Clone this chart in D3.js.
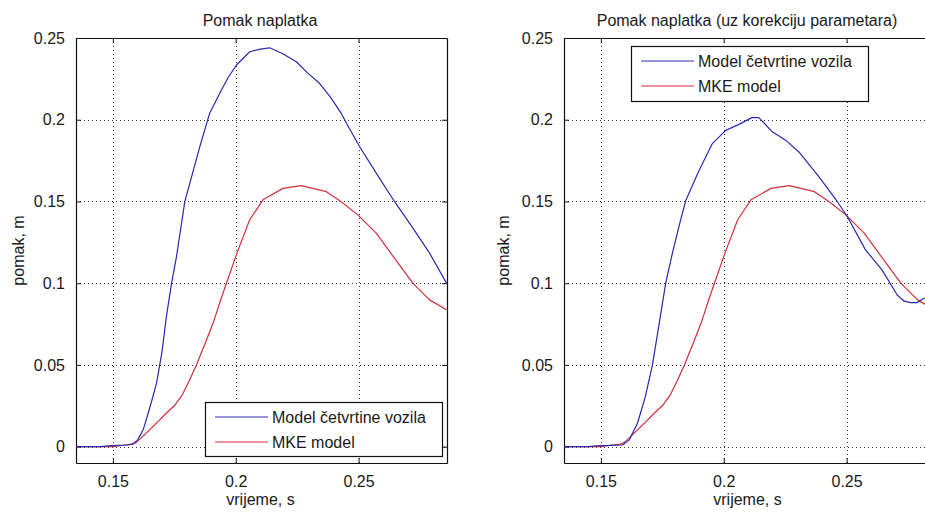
<!DOCTYPE html>
<html>
<head>
<meta charset="utf-8">
<script src="https://cdn.jsdelivr.net/npm/d3@7"></script>
<style>
  html, body { margin: 0; padding: 0; background: #fff; }
  svg { display: block; }
  text { font-family: "Liberation Sans", Arial, Helvetica, sans-serif; fill: #1a1a1a; }
</style>
</head>
<body>
<svg id="chart" width="925" height="513"></svg>
<script>
// ---------------- data ----------------
const titles = ["Pomak naplatka", "Pomak naplatka (uz korekciju parametara)"];
const xLabel = "vrijeme, s";
const yLabel = "pomak, m";
const seriesNames = ["Model četvrtine vozila", "MKE model"];
const xTicks = [0.15, 0.2, 0.25];
const xTickLabels = ["0.15", "0.2", "0.25"];
const yTicks = [0, 0.05, 0.1, 0.15, 0.2, 0.25];
const yTickLabels = ["0", "0.05", "0.1", "0.15", "0.2", "0.25"];
const xDomain = [0.135, 0.286];
const yDomain = [-0.01, 0.25];

// Left plot: quarter-vehicle model (blue)
const tBlueLeft = [0.135, 0.145, 0.148, 0.152, 0.156, 0.158, 0.1602, 0.1625, 0.1644, 0.166, 0.1678, 0.170, 0.1718, 0.1739, 0.1759, 0.1793, 0.1822, 0.1854, 0.1894, 0.1935, 0.197, 0.2003, 0.2057, 0.210, 0.2138, 0.219, 0.2247, 0.229, 0.2341, 0.2385, 0.2429, 0.2465, 0.2504, 0.2572, 0.2646, 0.272, 0.2789, 0.2858];
const vBlueLeft = [0, 0, 0.0005, 0.0008, 0.001, 0.0015, 0.0043, 0.011, 0.0206, 0.029, 0.039, 0.058, 0.0797, 0.1, 0.1163, 0.150, 0.166, 0.1836, 0.204, 0.2162, 0.226, 0.2335, 0.2416, 0.2432, 0.244, 0.2405, 0.2355, 0.229, 0.2223, 0.214, 0.204, 0.194, 0.1836, 0.1673, 0.150, 0.134, 0.1184, 0.1];

// MKE model (red), same in both plots
const tRed = [0.135, 0.150, 0.155, 0.158, 0.1596, 0.162, 0.165, 0.1685, 0.1718, 0.175, 0.178, 0.181, 0.184, 0.1875, 0.1908, 0.1935, 0.1962, 0.201, 0.2057, 0.2111, 0.2192, 0.2267, 0.2369, 0.2428, 0.2497, 0.2572, 0.2646, 0.2721, 0.2789, 0.2858];
const vRed = [0, 0, 0.001, 0.0015, 0.0026, 0.006, 0.0104, 0.0155, 0.0206, 0.025, 0.031, 0.040, 0.050, 0.063, 0.0756, 0.088, 0.100, 0.1204, 0.1388, 0.151, 0.158, 0.1597, 0.156, 0.150, 0.1418, 0.1306, 0.1153, 0.100, 0.0898, 0.0837];

// Right plot: quarter-vehicle model with corrected parameters (blue)
const tBlueRight = [0.135, 0.145, 0.148, 0.154, 0.1588, 0.1615, 0.1649, 0.168, 0.171, 0.1737, 0.1764, 0.1791, 0.182, 0.1846, 0.190, 0.1954, 0.2008, 0.206, 0.2115, 0.2143, 0.2198, 0.2252, 0.2306, 0.2388, 0.2462, 0.2503, 0.2577, 0.2645, 0.2706, 0.2735, 0.276, 0.2787, 0.2814, 0.2858];
const vBlueRight = [0, 0, 0.0005, 0.0008, 0.001, 0.004, 0.0143, 0.030, 0.050, 0.075, 0.100, 0.1183, 0.136, 0.1508, 0.1691, 0.1854, 0.1935, 0.197, 0.2013, 0.2013, 0.1926, 0.1875, 0.1803, 0.165, 0.150, 0.1408, 0.1204, 0.108, 0.0928, 0.089, 0.0881, 0.0881, 0.0908, 0.092];

const colors = ["#2a2aae", "#d22f3a"];

// ---------------- drawing ----------------
const svg = d3.select("#chart");
const FS = 16;

const panels = [
  { left: 76, right: 447, top: 38, bottom: 463, title: titles[0],
    blue: tBlueLeft.map((t, i) => [t, vBlueLeft[i]]),
    legend: { x: 205, y: 402, w: 237, h: 54 }, titleX: 260, ylabX: 24 },
  { left: 564, right: 935, top: 38, bottom: 463, title: titles[1],
    blue: tBlueRight.map((t, i) => [t, vBlueRight[i]]),
    legend: { x: 631, y: 46, w: 237, h: 55 }, titleX: 747, ylabX: 509 }
];
const redData = tRed.map((t, i) => [t, vRed[i]]);

panels.forEach((p, pi) => {
  const x = d3.scaleLinear().domain(xDomain).range([p.left, p.right]);
  const y = d3.scaleLinear().domain(yDomain).range([p.bottom, p.top]);
  const g = svg.append("g");

  const clipId = "clip" + pi;
  g.append("clipPath").attr("id", clipId).append("rect")
    .attr("x", p.left).attr("y", p.top).attr("width", p.right - p.left).attr("height", p.bottom - p.top);

  // grid
  g.append("g").selectAll("line").data(xTicks).join("line")
    .attr("x1", d => Math.round(x(d)) + 0.5).attr("x2", d => Math.round(x(d)) + 0.5)
    .attr("y1", p.top).attr("y2", p.bottom)
    .attr("stroke", "#333").attr("stroke-width", 1).attr("stroke-dasharray", "1,3");
  g.append("g").selectAll("line").data(yTicks).join("line")
    .attr("y1", d => Math.round(y(d)) + 0.5).attr("y2", d => Math.round(y(d)) + 0.5)
    .attr("x1", p.left).attr("x2", p.right)
    .attr("stroke", "#333").attr("stroke-width", 1).attr("stroke-dasharray", "1,3");

  // axes via d3 axis (ticks inward)
  const xAxisB = d3.axisBottom(x).tickValues(xTicks).tickFormat((d, i) => xTickLabels[i]).tickSize(-5).tickPadding(13).tickSizeOuter(0);
  const xAxisT = d3.axisTop(x).tickValues(xTicks).tickFormat("").tickSize(-5).tickSizeOuter(0);
  const yAxisL = d3.axisLeft(y).tickValues(yTicks).tickFormat((d, i) => yTickLabels[i]).tickSize(-5).tickPadding(11).tickSizeOuter(0);
  const yAxisR = d3.axisRight(y).tickValues(yTicks).tickFormat("").tickSize(-5).tickSizeOuter(0);

  const styleAxis = sel => {
    sel.select(".domain").attr("stroke", "#111").attr("stroke-width", 1.2);
    sel.selectAll(".tick line").attr("stroke", "#111");
    sel.selectAll("text").attr("font-size", FS).attr("font-family", "Liberation Sans, Arial, sans-serif").attr("fill", "#1a1a1a");
  };
  g.append("g").attr("transform", `translate(0,${p.bottom})`).call(xAxisB).call(styleAxis);
  g.append("g").attr("transform", `translate(0,${p.top})`).call(xAxisT).call(styleAxis);
  g.append("g").attr("transform", `translate(${p.left},0)`).call(yAxisL).call(styleAxis);
  g.append("g").attr("transform", `translate(${p.right},0)`).call(yAxisR).call(styleAxis);

  // lines
  const line = d3.line().x(d => x(d[0])).y(d => y(d[1]));
  const lg = g.append("g").attr("clip-path", `url(#${clipId})`);
  lg.append("path").datum(redData).attr("d", line)
    .attr("fill", "none").attr("stroke", colors[1]).attr("stroke-width", 1.2).attr("stroke-linejoin", "round");
  lg.append("path").datum(p.blue).attr("d", line)
    .attr("fill", "none").attr("stroke", colors[0]).attr("stroke-width", 1.2).attr("stroke-linejoin", "round");

  // title
  g.append("text").attr("x", p.titleX).attr("y", 26).attr("text-anchor", "middle")
    .attr("font-size", FS).text(p.title);
  // x label
  g.append("text").attr("x", (p.left + Math.min(p.right, 933)) / 2 - 1).attr("y", 505).attr("text-anchor", "middle")
    .attr("font-size", FS).text(xLabel);
  // y label
  g.append("text").attr("transform", `translate(${p.ylabX},${(p.top + p.bottom) / 2}) rotate(-90)`)
    .attr("text-anchor", "middle").attr("font-size", FS).text(yLabel);

  // legend
  const L = p.legend;
  const leg = g.append("g");
  leg.append("rect").attr("x", L.x + 0.5).attr("y", L.y + 0.5).attr("width", L.w).attr("height", L.h)
    .attr("fill", "#fff").attr("stroke", "#111").attr("stroke-width", 1.2);
  seriesNames.forEach((name, i) => {
    const ry = L.y + 15 + i * 25;
    leg.append("line").attr("x1", L.x + 10).attr("x2", L.x + 63).attr("y1", ry).attr("y2", ry)
      .attr("stroke", colors[i]).attr("stroke-width", 1.2);
    leg.append("text").attr("x", L.x + 67).attr("y", ry + 6).attr("font-size", FS).text(name);
  });
});
</script>
</body>
</html>
